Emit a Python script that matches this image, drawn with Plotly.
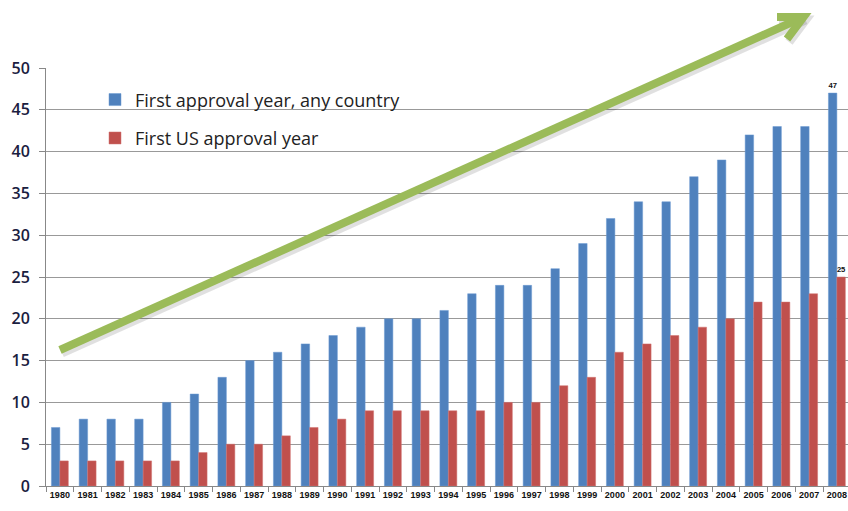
import plotly.graph_objects as go

years = [str(y) for y in range(1980, 2009)]
any_country = [7, 8, 8, 8, 10, 11, 13, 15, 16, 17, 18, 19, 20, 20, 21, 23, 24, 24, 26, 29,
               32, 34, 34, 37, 39, 42, 43, 43, 47]
us_first = [3, 3, 3, 3, 3, 4, 5, 5, 6, 7, 8, 9, 9, 9, 9, 9, 10, 10, 12, 13,
            16, 17, 18, 19, 20, 22, 22, 23, 25]

blue_labels = [""] * (len(years) - 1) + [str(any_country[-1])]
red_labels = [""] * (len(years) - 1) + [str(us_first[-1])]

fig = go.Figure()
fig.add_trace(go.Bar(
    x=years, y=any_country, name="First approval year, any country", legendgroup="a",
    marker=dict(color="#4F81BD", line=dict(color="#6C9BD2", width=0.5)),
    text=blue_labels, textposition="outside",
    textfont=dict(size=9, color="#111", family="Liberation Sans", weight="bold"),
    cliponaxis=False,
))
fig.add_trace(go.Bar(
    x=years, y=us_first, name="First US approval year", legendgroup="b",
    marker=dict(color="#C0504D", line=dict(color="#D07370", width=0.5)),
    text=red_labels, textposition="outside",
    textfont=dict(size=9, color="#111", family="Liberation Sans", weight="bold"),
    cliponaxis=False,
))

# plot area on page: x 46..848 (continues past right edge), y 68..486
FIG_W, FIG_H = 848, 511
L, T, B = 46, 68, 486
W_PLOT, H_PLOT = FIG_W - L, B - T
CAT_W = 27.75
X_MAX = -0.5 + W_PLOT / CAT_W


def px(x, y):
    return (x - L) / W_PLOT, (B - y) / H_PLOT


sx, sy = px(60, 350)
tx, ty = px(803.5, 17)
a1x, a1y = px(777, 17)
a2x, a2y = px(787, 39)
green = "#9BBB59"
shadow = "rgba(0,0,0,0.12)"
dx, dy = 2 / W_PLOT, -3 / H_PLOT
shapes = [
    dict(type="path", xref="paper", yref="paper",
         path=f"M {sx+dx} {sy+dy} L {tx+dx} {ty+dy}", line=dict(color=shadow, width=9)),
    dict(type="path", xref="paper", yref="paper",
         path=f"M {a1x+dx} {a1y+dy} L {tx+dx} {ty+dy} L {a2x+dx} {a2y+dy}",
         line=dict(color=shadow, width=9)),
    dict(type="path", xref="paper", yref="paper",
         path=f"M {sx} {sy} L {tx} {ty}", line=dict(color=green, width=8)),
    dict(type="path", xref="paper", yref="paper",
         path=f"M {a1x} {a1y} L {tx} {ty} L {a2x} {a2y}", line=dict(color=green, width=8)),
]

fig.update_layout(
    width=FIG_W, height=FIG_H,
    margin=dict(l=L, r=0, t=T, b=FIG_H - B),
    plot_bgcolor="white", paper_bgcolor="white",
    barmode="group", bargap=0.39, bargroupgap=0,
    font=dict(family="Liberation Sans", color="#1F2440"),
    showlegend=True,
    legend=dict(x=(95 - L) / W_PLOT, y=0.968, xanchor="left", yanchor="top",
                font=dict(size=18, color="#222", family="Open Sans"),
                bgcolor="rgba(0,0,0,0)", tracegroupgap=12, itemwidth=30),
    shapes=shapes,
    xaxis=dict(type="category", range=[-0.5, X_MAX], tickson="boundaries",
               ticks="outside", ticklen=5, tickcolor="#888", tickangle=0,
               showline=True, linecolor="#888", linewidth=1,
               tickfont=dict(size=9, color="#111", family="Liberation Sans", weight="bold"),
               showgrid=False),
    yaxis=dict(range=[0, 50], dtick=5, ticks="outside", ticklen=6, tickcolor="#888",
               showline=True, linecolor="#888", linewidth=1, ticklabelstandoff=6,
               gridcolor="#999", gridwidth=1,
               tickfont=dict(size=16, color="#1A2040", family="Open Sans", weight=600)),
)

fig.write_html(
    "out.html",
    config={"displayModeBar": False},
    post_script="document.body.style.margin='0';document.body.style.overflow='hidden';",
)
